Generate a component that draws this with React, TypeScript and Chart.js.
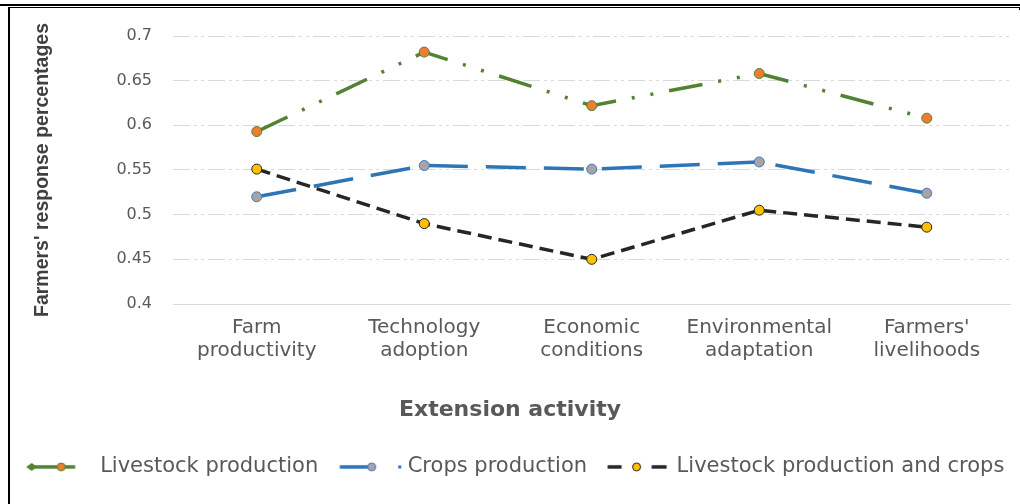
import React, { useEffect, useRef } from 'react';
import { Chart, registerables } from 'chart.js';

Chart.register(...registerables);

// ---- data ----
const categories: string[][] = [
  ['Farm', 'productivity'],
  ['Technology', 'adoption'],
  ['Economic', 'conditions'],
  ['Environmental', 'adaptation'],
  ["Farmers'", 'livelihoods'],
];
const seriesNames = ['Livestock production', 'Crops production', 'Livestock production and crops'];
const livestock = [0.593, 0.682, 0.622, 0.658, 0.608];
const crops = [0.520, 0.555, 0.551, 0.559, 0.524];
const mixed = [0.551, 0.490, 0.450, 0.505, 0.486];
const yMin = 0.4;
const yMax = 0.7;
const yStep = 0.05;
const yTitle = "Farmers' response percentages";
const xTitle = 'Extension activity';

// ---- styles ----
const GREEN = '#548235';
const ORANGE = '#ED7D31';
const BLUE = '#2E75B6';
const GREYM = '#A5A5A5';
const BLUEB = '#4472C4';
const BLACK = '#262626';
const YELLOW = '#FFC000';
const TEXT = '#595959';
const GRID = '#d9d9d9';
const SANS = "'DejaVu Sans', 'Liberation Sans', sans-serif";

function makeSymbol(kind: number): HTMLCanvasElement {
  const c = document.createElement('canvas');
  c.width = 90;
  c.height = 14;
  const ctx = c.getContext('2d')!;
  const cy = 7;
  const circle = (x: number, fill: string, stroke: string) => {
    ctx.beginPath();
    ctx.arc(x, cy, 4, 0, Math.PI * 2);
    ctx.fillStyle = fill;
    ctx.fill();
    ctx.lineWidth = 1;
    ctx.strokeStyle = stroke;
    ctx.stroke();
  };
  const line = (x1: number, x2: number, color: string) => {
    ctx.beginPath();
    ctx.moveTo(x1, cy);
    ctx.lineTo(x2, cy);
    ctx.lineWidth = 3.5;
    ctx.strokeStyle = color;
    ctx.stroke();
  };
  if (kind === 0) {
    line(24, 67.5, GREEN);
    ctx.beginPath();
    ctx.moveTo(18.5, cy);
    ctx.lineTo(24, cy - 4);
    ctx.lineTo(29.5, cy);
    ctx.lineTo(24, cy + 4);
    ctx.closePath();
    ctx.fillStyle = GREEN;
    ctx.fill();
    circle(53.5, ORANGE, GREEN);
  } else if (kind === 1) {
    line(24.5, 56, BLUE);
    circle(56.5, GREYM, BLUEB);
    ctx.fillStyle = BLUE;
    ctx.fillRect(83, cy - 1.5, 3, 3);
  } else {
    line(23.5, 37.5, BLACK);
    line(67.5, 82.5, BLACK);
    circle(52.5, YELLOW, BLACK);
  }
  return c;
}

const framePlugin = {
  id: 'frame',
  beforeDraw(chart: any) {
    const ctx = chart.ctx;
    ctx.save();
    ctx.fillStyle = '#ffffff';
    ctx.fillRect(0, 0, chart.width, chart.height);
    ctx.fillStyle = '#000000';
    ctx.fillRect(0, 4, chart.width, 2);
    ctx.fillRect(8, 7, chart.width - 8, 1);
    ctx.fillRect(8, 7, 2, chart.height - 7);
    ctx.fillRect(chart.width - 1, 7, 1, 3);
    ctx.restore();
  },
};

export default function App() {
  const ref = useRef<HTMLCanvasElement | null>(null);
  useEffect(() => {
    if (!ref.current) return;
    const symbols = [makeSymbol(0), makeSymbol(1), makeSymbol(2)];
    const chart = new Chart(ref.current, {
      type: 'line',
      data: {
        labels: categories,
        datasets: [
          {
            label: seriesNames[0],
            data: livestock,
            borderColor: GREEN,
            borderWidth: 3.5,
            borderDash: [34, 16, 3, 16, 3, 16],
            pointBackgroundColor: ORANGE,
            pointBorderColor: GREEN,
            pointBorderWidth: 1,
            pointRadius: 5,
            tension: 0,
          },
          {
            label: seriesNames[1],
            data: crops,
            borderColor: BLUE,
            borderWidth: 3.5,
            borderDash: [40, 18],
            pointBackgroundColor: GREYM,
            pointBorderColor: BLUEB,
            pointBorderWidth: 1,
            pointRadius: 5,
            tension: 0,
          },
          {
            label: seriesNames[2],
            data: mixed,
            borderColor: BLACK,
            borderWidth: 3.5,
            borderDash: [14, 7],
            pointBackgroundColor: YELLOW,
            pointBorderColor: BLACK,
            pointBorderWidth: 1,
            pointRadius: 5,
            tension: 0,
          },
        ],
      },
      options: {
        responsive: false,
        animation: false,
        layout: { padding: { left: 9.5, right: 9.5, top: 36, bottom: 16.6 } },
        scales: {
          x: {
            offset: true,
            grid: { display: false, drawTicks: false, offset: true },
            border: { display: true, color: GRID, width: 1 },
            ticks: {
              color: TEXT,
              font: { family: SANS, size: 20, lineHeight: 1.15 },
              padding: 12,
              maxRotation: 0,
              minRotation: 0,
              autoSkip: false,
            },
            afterFit(scale: any) {
              scale.height = 64;
            },
          },
          y: {
            min: yMin,
            max: yMax,
            grid: { color: GRID, lineWidth: 1, drawTicks: false },
            border: { display: false, dash: [17, 4, 3, 4, 3, 4] },
            ticks: {
              stepSize: yStep,
              color: TEXT,
              font: { family: SANS, size: 16 },
              padding: 21,
              callback: (v: any) => String(Number(Number(v).toFixed(2))),
            },
            title: {
              display: true,
              text: yTitle,
              color: '#404040',
              font: { family: "'Liberation Sans', sans-serif", size: 19.5, weight: 'bold' },
              padding: { top: 21, bottom: 0 },
            },
            afterFit(scale: any) {
              scale.width = 163.5;
            },
          },
        },
        plugins: {
          title: {
            display: true,
            text: xTitle,
            position: 'bottom',
            weight: 500,
            color: TEXT,
            font: { family: SANS, size: 22, weight: 'bold', lineHeight: 1.2 },
            padding: { top: 29, bottom: 28 },
          },
          legend: {
            position: 'bottom',
            weight: 1000,
            labels: {
              usePointStyle: true,
              pointStyleWidth: 74,
              padding: 5,
              color: TEXT,
              font: { family: SANS, size: 21 },
              generateLabels: (c: any) => {
                const items = (Chart.defaults.plugins.legend.labels as any).generateLabels(c);
                items.forEach((it: any, i: number) => {
                  it.pointStyle = symbols[i];
                  it.fontColor = TEXT;
                });
                return items;
              },
            },
          },
          tooltip: { enabled: false },
        },
      } as any,
      plugins: [framePlugin],
    });
    return () => chart.destroy();
  }, []);
  return (
    <div style={{ position: 'absolute', left: 0, top: 0, width: 1020, height: 504 }}>
      <canvas ref={ref} width={1020} height={504} style={{ display: 'block' }} />
    </div>
  );
}
